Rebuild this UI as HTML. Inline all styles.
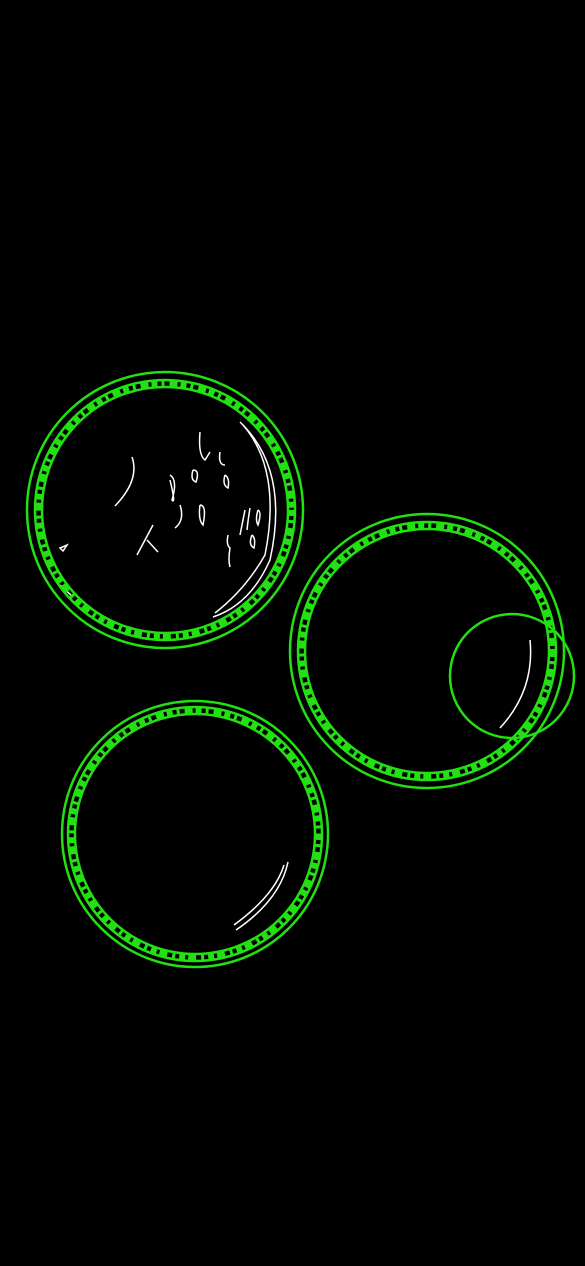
<!DOCTYPE html>
<html><head><meta charset="utf-8"><style>
html,body{margin:0;padding:0;background:#000;width:585px;height:1266px;overflow:hidden}
svg{display:block}
</style></head><body>
<svg id="chart" width="585" height="1266" viewBox="0 0 585 1266">
<rect width="585" height="1266" fill="#000"/>
<g id="edges" fill="none" stroke="#fff" stroke-width="1.5">
<path d="M240 422 Q290 470 270 560 Q250 605 213 617"/>
<path d="M243 425 Q282 470 265 555 Q245 590 215 613"/>
<path d="M132 457 Q140 480 115 506"/>
<path d="M200 432 Q198 455 205 460 L210 452"/>
<path d="M193 470 Q190 480 196 482 Q200 470 193 470"/>
<path d="M220 452 Q218 465 225 465"/>
<path d="M170 475 Q178 480 172 500 Q176 505 170 480"/>
<path d="M180 505 Q185 520 175 528"/>
<path d="M200 505 Q198 520 203 525 Q207 505 200 505"/>
<path d="M153 525 Q145 540 137 555 M147 540 L158 552"/>
<path d="M225 475 Q222 485 228 488 Q230 478 225 475"/>
<path d="M245 510 Q242 525 240 535 M250 508 Q248 520 247 530"/>
<path d="M258 510 Q255 520 258 525 Q262 512 258 510"/>
<path d="M228 535 Q226 545 230 548 Q228 560 230 567"/>
<path d="M252 535 Q248 545 254 548 Q256 538 252 535"/>
<path d="M60 548 L67 545 L63 551 Z"/>
<path d="M60 585 L73 597"/>
<path d="M288 862 Q280 900 236 930"/>
<path d="M284 865 Q275 895 234 925"/>
<path d="M530 640 Q535 690 500 728"/>
</g>
<g id="circles"></g>
</svg>
<script>
const circleX = [165, 427, 195, 512];
const circleY = [510, 651, 834, 676];
const circleR = [138, 137, 133, 62];
const bandR = [126, 125, 123, 0];
const NS = 'http://www.w3.org/2000/svg';
const g = document.getElementById('circles');
for (let i = 0; i < circleX.length; i++) {
  const c = document.createElementNS(NS, 'circle');
  
  
  c.setAttribute('cx', circleX[i]); c.setAttribute('cy', circleY[i]); c.setAttribute('r', circleR[i]);
  c.setAttribute('fill', 'none'); c.setAttribute('stroke', '#22e012'); c.setAttribute('stroke-width', '2.5');
  g.appendChild(c);
  if (bandR[i] > 0) {
    [bandR[i] - 3, bandR[i] + 4].forEach(function (rr) {
      const b = document.createElementNS(NS, 'circle');
      
      
      b.setAttribute('cx', circleX[i]); b.setAttribute('cy', circleY[i]); b.setAttribute('r', rr);
      b.setAttribute('fill', 'none'); b.setAttribute('stroke', '#22e012'); b.setAttribute('stroke-width', '2.5');
      g.appendChild(b);
    });
    const d = document.createElementNS(NS, 'circle');
    
    
    d.setAttribute('cx', circleX[i]); d.setAttribute('cy', circleY[i]); d.setAttribute('r', bandR[i]);
    d.setAttribute('fill', 'none'); d.setAttribute('stroke', '#22e012'); d.setAttribute('stroke-width', '7');
    d.setAttribute('stroke-dasharray', '6 4 3 5 8 3');
    g.appendChild(d);
  }
}
</script>
</body></html>
